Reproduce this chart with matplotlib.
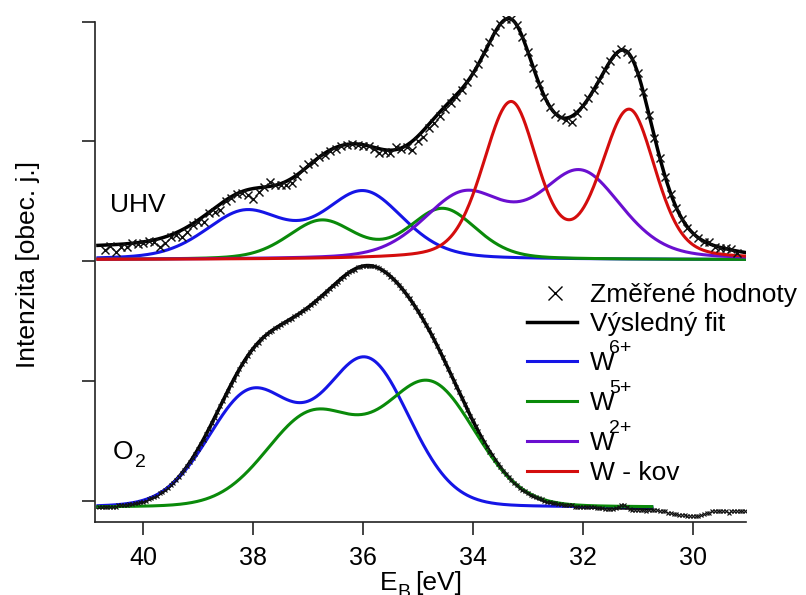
import numpy as np
import matplotlib
matplotlib.use("Agg")
import matplotlib.pyplot as plt
from matplotlib.lines import Line2D

plt.rcParams['font.family'] = ['Liberation Sans', 'DejaVu Sans']

# Measured W 4f spectra (UHV spectrum shifted up by 2 units)
uhv_e_start, uhv_e_step = 40.7, 0.1
uhv_meas = [2.09, 2.13, 2.08, 2.12, 2.12, 2.15, 2.14, 2.15, 2.17, 2.16,
            2.12, 2.15, 2.20, 2.22, 2.20, 2.24, 2.30, 2.33, 2.33, 2.40,
            2.41, 2.43, 2.50, 2.53, 2.56, 2.57, 2.55, 2.52, 2.58, 2.62,
            2.66, 2.64, 2.64, 2.64, 2.65, 2.71, 2.77, 2.81, 2.83, 2.87,
            2.89, 2.92, 2.94, 2.96, 2.97, 2.98, 2.97, 2.96, 2.96, 2.94,
            2.90, 2.91, 2.90, 2.95, 2.94, 2.95, 2.93, 3.00, 3.04, 3.11,
            3.15, 3.21, 3.27, 3.32, 3.37, 3.43, 3.50, 3.57, 3.65, 3.74,
            3.83, 3.91, 3.98, 4.02, 4.02, 3.97, 3.87, 3.75, 3.61, 3.48,
            3.37, 3.29, 3.23, 3.20, 3.18, 3.16, 3.24, 3.30, 3.36, 3.43,
            3.51, 3.60, 3.67, 3.73, 3.77, 3.75, 3.69, 3.57, 3.41, 3.22,
            3.03, 2.86, 2.70, 2.56, 2.44, 2.35, 2.28, 2.23, 2.19, 2.16,
            2.16, 2.12, 2.11, 2.11, 2.10, 2.07]

o2_e_start, o2_e_step = 40.8, 0.05
o2_meas = [-0.05, -0.05, -0.05, -0.05, -0.05, -0.05, -0.05, -0.04, -0.04, -0.04,
           -0.04, -0.03, -0.03, -0.02, -0.02, -0.01, -0.01, 0.00, 0.01, 0.02,
           0.03, 0.04, 0.06, 0.07, 0.09, 0.11, 0.13, 0.15, 0.17, 0.20,
           0.23, 0.26, 0.29, 0.32, 0.36, 0.39, 0.43, 0.47, 0.51, 0.56,
           0.60, 0.65, 0.69, 0.74, 0.79, 0.83, 0.88, 0.92, 0.97, 1.01,
           1.06, 1.10, 1.14, 1.17, 1.21, 1.24, 1.27, 1.30, 1.32, 1.35,
           1.37, 1.39, 1.41, 1.42, 1.44, 1.45, 1.47, 1.48, 1.49, 1.51,
           1.52, 1.54, 1.55, 1.57, 1.58, 1.60, 1.61, 1.63, 1.65, 1.67,
           1.69, 1.71, 1.73, 1.75, 1.77, 1.79, 1.81, 1.83, 1.85, 1.87,
           1.89, 1.91, 1.92, 1.93, 1.95, 1.95, 1.96, 1.96, 1.96, 1.96,
           1.96, 1.95, 1.94, 1.93, 1.91, 1.89, 1.87, 1.85, 1.83, 1.80,
           1.78, 1.75, 1.72, 1.69, 1.65, 1.62, 1.58, 1.55, 1.51, 1.47,
           1.43, 1.38, 1.34, 1.29, 1.25, 1.20, 1.15, 1.10, 1.05, 1.00,
           0.95, 0.91, 0.86, 0.81, 0.76, 0.71, 0.67, 0.62, 0.58, 0.53,
           0.49, 0.45, 0.41, 0.38, 0.34, 0.31, 0.28, 0.25, 0.22, 0.20,
           0.17, 0.15, 0.13, 0.11, 0.09, 0.08, 0.06, 0.05, 0.04, 0.03,
           0.02, 0.01, 0.00, -0.01, -0.01, -0.02, -0.02, -0.03, -0.03, -0.04,
           -0.04, -0.04, -0.04, -0.05, -0.05, -0.05, -0.05, -0.05, -0.05, -0.05,
           -0.05, -0.06, -0.06, -0.06, -0.07, -0.07, -0.07, -0.07, -0.06, -0.05,
           -0.04, -0.04, -0.05, -0.07, -0.08, -0.08, -0.08, -0.08, -0.08, -0.09,
           -0.08, -0.08, -0.08, -0.08, -0.09, -0.09, -0.09, -0.10, -0.10, -0.11,
           -0.11, -0.12, -0.12, -0.12, -0.13, -0.13, -0.13, -0.13, -0.13, -0.12,
           -0.11, -0.10, -0.10, -0.09, -0.09, -0.09, -0.09, -0.09, -0.09, -0.10,
           -0.09, -0.09, -0.09, -0.09, -0.09, -0.09]

# Fitted W 4f doublets, order: W6+, W5+, W2+, W metal
uhv_pos_72 = [35.99, 34.55, 32.05, 31.16]
uhv_pos_52 = [38.14, 36.75, 34.15, 33.31]
uhv_amp_72 = [0.558, 0.42, 0.72, 1.233]
uhv_amp_52 = [0.39, 0.32, 0.535, 1.295]
uhv_fwhm_lo = [1.72, 1.45, 1.78, 1.12]
uhv_fwhm_hi = [1.72, 1.45, 1.78, 1.20]
uhv_gl = [0.3, 0.3, 0.3, 0.3]

o2_pos_72 = [35.935, 34.79]
o2_pos_52 = [38.035, 36.93]
o2_amp_72 = [1.217, 1.02]
o2_amp_52 = [0.944, 0.76]
o2_fwhm = [1.85, 1.98]
o2_gl = [0.1, 0.1]

uhv_base = 2.012
uhv_bg_e = [40.82, 33.3, 31.2, 29.03]
uhv_bg = [0.09, 0.11, 0.075, 0.0]
o2_base = -0.057
o2_bg = -0.02

labels = ['Změřené hodnoty', 'Výsledný fit', 'W', 'W', 'W', 'W - kov']
label_sup = ['', '', '6+', '5+', '2+', '']
colors = ['#1515e6', '#0a8a0a', '#6a0fd0', '#d40d0d']


def pv(e, c, a, w_lo, w_hi, m):
    """Pseudo-Voigt line, optionally wider on the high binding energy side."""
    w = np.where(e > c, w_hi, w_lo)
    g = np.exp(-4 * np.log(2) * (e - c) ** 2 / w ** 2)
    l = 1.0 / (1 + 4 * (e - c) ** 2 / w ** 2)
    return a * ((1 - m) * g + m * l)


def doublet(e, p72, p52, a72, a52, w_lo, w_hi, m):
    return pv(e, p72, a72, w_lo, w_hi, m) + pv(e, p52, a52, w_lo, w_hi, m)


e_uhv = np.linspace(40.82, 29.03, 600)
e_o2 = np.linspace(40.82, 30.75, 520)

uhv_comp = [doublet(e_uhv, *p) for p in zip(uhv_pos_72, uhv_pos_52, uhv_amp_72, uhv_amp_52,
                                              uhv_fwhm_lo, uhv_fwhm_hi, uhv_gl)]
o2_comp = [doublet(e_o2, *p) for p in zip(o2_pos_72, o2_pos_52, o2_amp_72, o2_amp_52,
                                            o2_fwhm, o2_fwhm, o2_gl)]

uhv_fit = uhv_base + np.interp(e_uhv, uhv_bg_e[::-1], uhv_bg[::-1]) + sum(uhv_comp)
o2_fit = o2_base + o2_bg + sum(o2_comp)

uhv_e = uhv_e_start - uhv_e_step * np.arange(len(uhv_meas))
o2_e = o2_e_start - o2_e_step * np.arange(len(o2_meas))

fig = plt.figure(figsize=(8.06, 5.95), dpi=100)
ax = fig.add_axes([95 / 806, 73 / 595, 651 / 806, 506.3 / 595])
ax.set_xlim(40.873, 29.036)
ax.set_ylim(-0.178, 4.05)

ax.plot(e_uhv, uhv_fit, color='black', lw=2.5, zorder=2)
ax.plot(e_o2, o2_fit, color='black', lw=2.5, zorder=2)
for c, y in zip(colors, uhv_comp):
    ax.plot(e_uhv, uhv_base + y, color=c, lw=2.2, zorder=3)
for c, y in zip(colors, o2_comp):
    ax.plot(e_o2, o2_base + y, color=c, lw=2.2, zorder=3)
ax.plot(uhv_e, uhv_meas, ls='none', marker='x', ms=5.8, mew=1.05, color='#111111', zorder=4)
ax.plot(o2_e, o2_meas, ls='none', marker='x', ms=3.5, mew=0.85, color='#111111', zorder=4)

for s in ['top', 'right']:
    ax.spines[s].set_visible(False)
for s in ['left', 'bottom']:
    ax.spines[s].set_linewidth(1.2)
    ax.spines[s].set_color('#222222')
ax.spines['left'].set_bounds(-0.178, 4.0)
ax.set_yticks([0, 1, 2, 3, 4])
ax.set_xticks([40, 38, 36, 34, 32, 30])
ax.tick_params(axis='both', direction='out', length=9.5, width=1.2, color='#222222',
               labelsize=18, pad=7.5)
ax.tick_params(axis='y', labelleft=False)


def ftext(x, y, s, size=19, **kw):
    # text placed by pixel position, y counted from the top edge
    return fig.text(x / 806, 1 - y / 595, s, fontsize=size, va='baseline', **kw)


# axis titles
ftext(380, 590, 'E')
ftext(397.5, 597, 'B', size=14)
ftext(415, 590, '[eV]')
fig.text(28 / 806, 0.5555, 'Intenzita [obec. j.]', fontsize=19, rotation=90,
         ha='center', va='center')

# spectrum names
ftext(110, 211.7, 'UHV')
ftext(113, 459, 'O')
ftext(135, 466.7, '2', size=14)

# key
leg_rows = [301.7, 330.7, 369.7, 409.7, 449.7, 480]
leg_color = ['black', 'black'] + colors
for i, (yb, t, sup, c) in enumerate(zip(leg_rows, labels, label_sup, leg_color)):
    ym = 1 - (yb - 9) / 595
    if i == 0:
        fig.add_artist(Line2D([555 / 806], [ym], ls='none', marker='x', ms=10, mew=1.0, color=c))
    else:
        fig.add_artist(Line2D([527 / 806, 577 / 806], [ym, ym], color=c,
                              lw=2.5 if i == 1 else 2.2))
    ftext(590, yb, t)
    if sup:
        ftext(609.5, yb - 17, sup, size=14)

fig.savefig('out.png', dpi=100)
